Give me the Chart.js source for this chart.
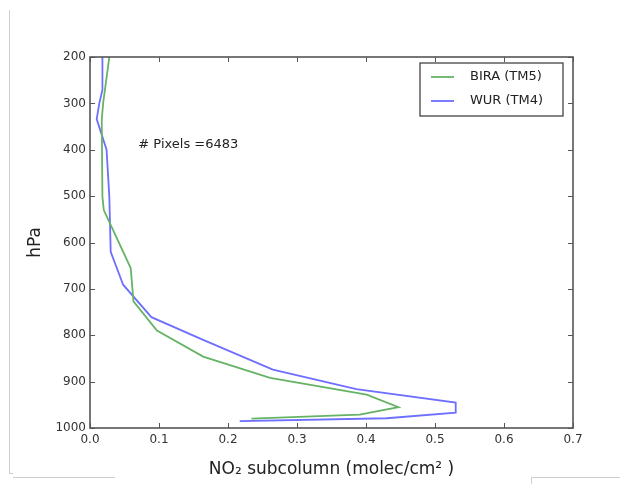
<!DOCTYPE html>
<html>
<head>
<meta charset="utf-8">
<script src="https://cdn.jsdelivr.net/npm/chart.js@4.4.0/dist/chart.umd.min.js"></script>
<style>
    html, body { margin: 0; padding: 0; background: #fff; }
    #wrap { position: relative; width: 620px; height: 484px; }
    #myChart { position: absolute; left: 0; top: 0; }
    .edge { position: absolute; background: #cfcfcf; }
</style>
</head>
<body>
<div id="wrap">
    <canvas id="myChart" width="620" height="484"></canvas>
    <div class="edge" style="left:9px; top:10px; width:1px; height:463px;"></div>
    <div class="edge" style="left:9px; top:473px; width:4px; height:1px;"></div>
    <div class="edge" style="left:13px; top:477px; width:102px; height:1px;"></div>
    <div class="edge" style="left:531px; top:477px; width:89px; height:1px;"></div>
    <div class="edge" style="left:531px; top:477px; width:1px; height:7px;"></div>
</div>
<script>
// perfiles verticales (presion en hPa, subcolumna NO2)
var presion_bira = [200, 300, 336, 501, 530, 655, 727, 790, 846, 892, 928, 955, 971, 980];
var valor_bira   = [0.028, 0.019, 0.017, 0.018, 0.020, 0.059, 0.063, 0.097, 0.164, 0.261, 0.401, 0.447, 0.391, 0.234];
var presion_wur  = [200, 271, 300, 334, 400, 501, 620, 691, 761, 810, 874, 916, 945, 967, 979, 985];
var valor_wur    = [0.018, 0.018, 0.0135, 0.0097, 0.024, 0.028, 0.030, 0.048, 0.089, 0.164, 0.265, 0.386, 0.53, 0.53, 0.43, 0.217];
var ticks_x = [0.0, 0.1, 0.2, 0.3, 0.4, 0.5, 0.6, 0.7];
var ticks_y = [200, 300, 400, 500, 600, 700, 800, 900, 1000];
var etiquetas = ['BIRA (TM5)', 'WUR (TM4)'];
var num_pixeles = 6483;

var verde = 'rgb(102,179,102)';
var azul = 'rgb(110,110,255)';
var fuente = '"DejaVu Sans", sans-serif';

var puntos = function (p, v) {
    var out = [];
    p.forEach((el, i) => out.push({ x: v[i], y: el }));
    return out;
}

// marco con ticks hacia dentro en los cuatro lados, leyenda y texto
var marco = {
    id: 'marco',
    afterDraw: function (chart) {
        var ctx = chart.ctx;
        var a = chart.chartArea;
        var sx = chart.scales.x, sy = chart.scales.y;
        ctx.save();
        ctx.strokeStyle = '#555';
        ctx.lineWidth = 1;
        ctx.beginPath();
        ticks_x.forEach(t => {
            var px = Math.round(sx.getPixelForValue(t)) + 0.5;
            ctx.moveTo(px, a.bottom); ctx.lineTo(px, a.bottom - 5);
            ctx.moveTo(px, a.top); ctx.lineTo(px, a.top + 5);
        });
        ticks_y.forEach(t => {
            var py = Math.round(sy.getPixelForValue(t)) + 0.5;
            ctx.moveTo(a.left, py); ctx.lineTo(a.left + 5, py);
            ctx.moveTo(a.right, py); ctx.lineTo(a.right - 5, py);
        });
        ctx.stroke();
        ctx.lineWidth = 1.6;
        ctx.strokeStyle = '#555';
        ctx.strokeRect(a.left, a.top, a.right - a.left, a.bottom - a.top);

        // leyenda
        var lx = a.right - 153, ly = a.top + 6, lw = 143, lh = 53;
        ctx.lineWidth = 1.3;
        ctx.strokeStyle = '#444';
        ctx.fillStyle = '#fff';
        ctx.fillRect(lx, ly, lw, lh);
        ctx.strokeRect(lx, ly, lw, lh);
        ctx.font = '13px ' + fuente;
        ctx.textBaseline = 'middle';
        chart.data.datasets.forEach((ds, i) => {
            var yy = ly + 14 + i * 24;
            ctx.strokeStyle = ds.borderColor;
            ctx.lineWidth = 1.8;
            ctx.beginPath();
            ctx.moveTo(lx + 11, yy); ctx.lineTo(lx + 34, yy);
            ctx.stroke();
            ctx.fillStyle = '#222';
            ctx.fillText(ds.label, lx + 50, yy);
        });

        // numero de pixeles
        ctx.font = '13px ' + fuente;
        ctx.fillStyle = '#222';
        ctx.fillText('# Pixels =' + num_pixeles, sx.getPixelForValue(0.07), sy.getPixelForValue(390));
        ctx.restore();
    }
};

var ctx = document.getElementById('myChart');
var myChart = new Chart(ctx, {
    type: 'scatter',
    data: {
        datasets: [
            {
                label: etiquetas[0],
                data: puntos(presion_bira, valor_bira),
                showLine: true,
                borderColor: verde,
                backgroundColor: verde,
                borderWidth: 1.8,
                pointRadius: 0,
                tension: 0
            },
            {
                label: etiquetas[1],
                data: puntos(presion_wur, valor_wur),
                showLine: true,
                borderColor: azul,
                backgroundColor: azul,
                borderWidth: 1.8,
                pointRadius: 0,
                tension: 0
            }
        ]
    },
    plugins: [marco],
    options: {
        responsive: false,
        animation: false,
        layout: { padding: { left: 25, top: 57, right: 47, bottom: 2 } },
        plugins: {
            legend: { display: false },
            tooltip: { enabled: false }
        },
        scales: {
            x: {
                type: 'linear',
                min: 0,
                max: 0.7,
                afterBuildTicks: function (scale) {
                    scale.ticks = ticks_x.map(v => ({ value: v }));
                },
                afterFit: function (scale) { scale.height = 54; },
                grid: { display: false, drawTicks: false },
                border: { display: false },
                ticks: {
                    padding: 5,
                    color: '#333',
                    font: { family: fuente, size: 12 },
                    callback: v => v.toFixed(1)
                },
                title: {
                    display: true,
                    text: 'NO\u2082 subcolumn (molec/cm\u00b2 )',
                    color: '#222',
                    font: { family: fuente, size: 17 },
                    padding: { top: 0, bottom: 2 }
                }
            },
            y: {
                type: 'linear',
                reverse: true,
                min: 200,
                max: 1000,
                afterBuildTicks: function (scale) {
                    scale.ticks = ticks_y.map(v => ({ value: v }));
                },
                afterFit: function (scale) { scale.width = 65; },
                grid: { display: false, drawTicks: false },
                border: { display: false },
                ticks: {
                    padding: 4,
                    color: '#333',
                    font: { family: fuente, size: 12 },
                    callback: v => String(v)
                },
                title: {
                    display: true,
                    text: 'hPa',
                    color: '#222',
                    font: { family: fuente, size: 17 },
                    padding: 0
                }
            }
        }
    }
});
</script>
</body>
</html>
